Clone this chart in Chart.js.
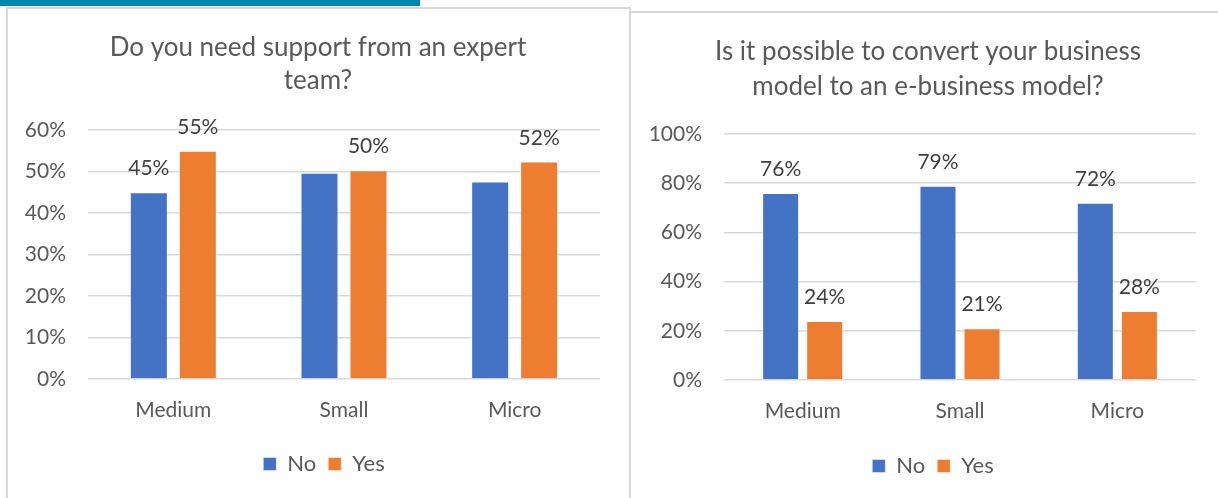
<!DOCTYPE html>
<html>
<head>
<meta charset="utf-8">
<script src="https://cdn.jsdelivr.net/npm/chart.js@4.4.1/dist/chart.umd.min.js"></script>
<style>
  html, body { margin: 0; padding: 0; background: #ffffff; width: 1218px; height: 498px; overflow: hidden; position: relative; }
  #teal { position: absolute; left: 0; top: 0; width: 420px; height: 6px; background: #0085b0; }
  .panel { position: absolute; box-sizing: border-box; border: 2px solid #d9d9d9; background: #fff; }
  #p1 { left: 6px; top: 7px; width: 625px; height: 600px; }
  #p2 { left: 629px; top: 11px; width: 700px; height: 600px; }
  canvas { position: absolute; }
  #c1 { left: 8px; top: 9px; }
  #c2 { left: 632px; top: 13px; }
</style>
</head>
<body>
<div id="teal"></div>
<div class="panel" id="p1"></div>
<div class="panel" id="p2"></div>
<canvas id="c1" width="620" height="489"></canvas>
<canvas id="c2" width="586" height="485"></canvas>
<script>
// ---- data ----
const categories = ['Medium', 'Small', 'Micro'];
const seriesNames = ['No', 'Yes'];

const title1 = ['Do you need support from an expert', 'team?'];
const support_No = [45, 49.7, 47.6];
const support_Yes = [55, 50.3, 52.4];
const support_No_show = [true, false, false];
const support_Yes_show = [true, true, true];
const ticks1 = [0, 10, 20, 30, 40, 50, 60];

const title2 = ['Is it possible to convert your business', 'model to an e-business model?'];
const convert_No = [76, 79, 72];
const convert_Yes = [24, 21, 28];
const convert_No_show = [true, true, true];
const convert_Yes_show = [true, true, true];
const ticks2 = [0, 20, 40, 60, 80, 100];

// ---- styles ----
const BLUE = '#4472C4';
const ORANGE = '#ED7D31';
const FONT = 'Lato, "Open Sans", sans-serif';
const TEXT = '#595959';

const labelPlugin = {
  id: 'barLabels',
  afterLayout(chart) {
    const o = chart.options.shifts;
    if (chart.titleBlock) { chart.titleBlock.left += o.title; chart.titleBlock.right += o.title; }
    if (chart.legend) { chart.legend.left += o.legend; chart.legend.right += o.legend; }
  },
  afterDatasetsDraw(chart) {
    const ctx = chart.ctx;
    ctx.save();
    ctx.font = '21px ' + FONT;
    ctx.fillStyle = '#404040';
    ctx.textAlign = 'center';
    ctx.textBaseline = 'alphabetic';
    chart.data.datasets.forEach((ds, di) => {
      const meta = chart.getDatasetMeta(di);
      meta.data.forEach((el, i) => {
        if (!ds.showLabels[i]) return;
        const txt = Math.round(ds.data[i]) + '%';
        ctx.fillText(txt, el.x, el.y - 17);
      });
    });
    ctx.restore();
  }
};

function makeChart(id, title, noVals, yesVals, noShow, yesShow, ticks, cfg) {
  const dsCommon = {
    categoryPercentage: cfg.catPct,
    barPercentage: cfg.barPct,
    borderWidth: 1,
    borderColor: 'rgba(255,255,255,0.45)'
  };
  return new Chart(document.getElementById(id), {
    type: 'bar',
    data: {
      labels: categories,
      datasets: [
        Object.assign({ label: seriesNames[0], data: noVals, backgroundColor: BLUE, showLabels: noShow }, dsCommon),
        Object.assign({ label: seriesNames[1], data: yesVals, backgroundColor: ORANGE, showLabels: yesShow }, dsCommon)
      ]
    },
    options: {
      responsive: false,
      animation: false,
      devicePixelRatio: 1,
      shifts: { title: cfg.shiftTitle, legend: cfg.shiftLegend },
      layout: { padding: { left: 0, right: cfg.padRight, top: 0, bottom: cfg.padBottom } },
      plugins: {
        title: {
          display: true,
          text: title,
          color: TEXT,
          font: { family: FONT, size: 26, weight: 'normal', lineHeight: cfg.titleLH },
          padding: { top: cfg.titleTop, bottom: cfg.titleBottom }
        },
        legend: {
          display: true,
          position: 'bottom',
          labels: {
            color: TEXT,
            font: { family: FONT, size: 22 },
            boxWidth: 13,
            boxHeight: 13,
            padding: 12,
            useBorderRadius: false
          }
        },
        tooltip: { enabled: false }
      },
      scales: {
        x: {
          grid: { display: false, drawTicks: false },
          border: { display: false },
          ticks: { color: TEXT, font: { family: FONT, size: 21 }, padding: 19 },
          afterFit(s) { s.height = cfg.xHeight; }
        },
        y: {
          min: ticks[0],
          max: ticks[ticks.length - 1],
          afterBuildTicks(s) { s.ticks = ticks.map(v => ({ value: v })); },
          grid: { color: '#d9d9d9', lineWidth: 1.5, drawTicks: false },
          border: { display: false },
          ticks: {
            color: TEXT,
            font: { family: FONT, size: 21 },
            padding: 22,
            callback: v => v + '%'
          },
          afterFit(s) { s.width = cfg.yWidth; }
        }
      }
    },
    plugins: [labelPlugin]
  });
}

makeChart('c1', title1, support_No, support_Yes, support_No_show, support_Yes_show, ticks1,
  { catPct: 0.574, barPct: 0.776, padRight: 28, padBottom: 13, xHeight: 62,
    titleLH: 1.27, titleTop: 22, titleBottom: 33, yWidth: 80, shiftTitle: 14, shiftLegend: 20 });
makeChart('c2', title2, convert_No, convert_Yes, convert_No_show, convert_Yes_show, ticks2,
  { catPct: 0.56, barPct: 0.84, padRight: 22, padBottom: 11, xHeight: 63,
    titleLH: 1.346, titleTop: 21, titleBottom: 30, yWidth: 92, shiftTitle: 14, shiftLegend: 19 });
</script>
</body>
</html>
